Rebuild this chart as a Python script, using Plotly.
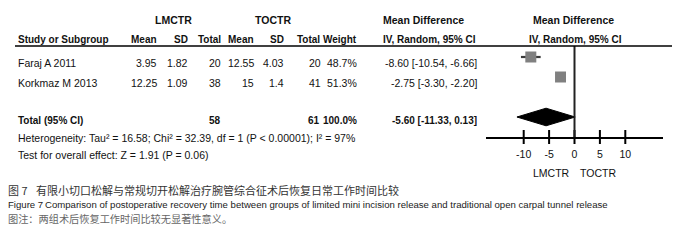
import plotly.graph_objects as go

# ---------------- data ----------------
studies = ["Faraj A 2011", "Korkmaz M 2013"]
lm_mean = [3.95, 12.25]
lm_sd = [1.82, 1.09]
lm_n = [20, 38]
to_mean = [12.55, 15]
to_sd = [4.03, 1.4]
to_n = [20, 41]
weights = [48.7, 51.3]
md = [-8.60, -2.75]
md_lo = [-10.54, -3.30]
md_hi = [-6.66, -2.20]

total_lm_n = 58
total_to_n = 61
total_weight = 100.0
total_md = -5.60
total_lo = -11.33
total_hi = 0.13

heterogeneity = "Heterogeneity: Tau² = 16.58; Chi² = 32.39, df = 1 (P < 0.00001); I² = 97%"
overall = "Test for overall effect: Z = 1.91 (P = 0.06)"
group1 = "LMCTR"
group2 = "TOCTR"
tick_vals = [-10, -5, 0, 5, 10]

cap_cn_label = "图 7"
cap_cn = "有限小切口松解与常规切开松解治疗腕管综合征术后恢复日常工作时间比较"
cap_en_label = "Figure 7"
cap_en = "Comparison of postoperative recovery time between groups of limited mini incision release and traditional open carpal tunnel release"
cap_note = "图注：两组术后恢复工作时间比较无显著性意义。"

# ---------------- layout helpers ----------------
W, H = 683, 240
FONT = "Liberation Sans, Arial, sans-serif"
CJK = "Noto Sans CJK SC, sans-serif"
FS = 10.5     # table text size
FSH = 10      # column header size
FST = 10      # total row size

study_rows = [1, 2]
total_row = 4
axis_row = 5
top_row = -1.85  # row at top edge of figure


def px(x):
    return x / W


def py(y):
    return 1 - y / H


fig = go.Figure()

# CI lines
fig.add_trace(go.Scatter(
    x=md, y=study_rows, mode="markers",
    marker=dict(size=1, color="rgba(0,0,0,0)"),
    error_x=dict(type="data", symmetric=False,
                 array=[h - m for h, m in zip(md_hi, md)],
                 arrayminus=[m - l for m, l in zip(md, md_lo)],
                 color="#3a3a3a", thickness=2.2, width=0),
    showlegend=False, hoverinfo="skip", cliponaxis=False))

# squares
fig.add_trace(go.Scatter(
    x=md, y=study_rows, mode="markers",
    marker=dict(symbol="square", size=11, color="#808080", line=dict(width=0)),
    showlegend=False, cliponaxis=False))

# diamond
dh = 0.44
fig.add_trace(go.Scatter(
    x=[total_lo, total_md, total_hi, total_md, total_lo],
    y=[total_row, total_row - dh, total_row, total_row + dh, total_row],
    mode="lines", fill="toself", fillcolor="black",
    line=dict(color="black", width=1), showlegend=False, cliponaxis=False))

# ticks crossing axis line
fig.add_trace(go.Scatter(
    x=tick_vals, y=[axis_row] * len(tick_vals), mode="markers",
    marker=dict(symbol="line-ns", size=10, line=dict(width=2, color="black")),
    showlegend=False, cliponaxis=False, hoverinfo="skip"))

# zero line
fig.add_shape(type="line", xref="x", yref="y", x0=0, x1=0, y0=0.45, y1=axis_row,
              line=dict(color="#222", width=2))
# header line
fig.add_shape(type="line", xref="paper", yref="paper", x0=px(15), x1=px(672),
              y0=py(46), y1=py(46), line=dict(color="black", width=1.6))


def txt(s, x, y, anchor="left", size=FS, bold=False, color="#111", family=FONT):
    if bold:
        s = "<b>" + s + "</b>"
    fig.add_annotation(text=s, x=px(x), y=py(y), xref="paper", yref="paper",
                       xanchor=anchor, yanchor="middle", showarrow=False,
                       font=dict(size=size, color=color, family=family), borderpad=0)


# headers
txt(group1, 173, 20, "center", bold=True)
txt(group2, 273, 20, "center", bold=True)
txt("Mean Difference", 423, 20, "center", bold=True)
txt("Mean Difference", 573.5, 20, "center", bold=True)
txt("Study or Subgroup", 17, 40, "left", size=FSH, bold=True)
for lab, x in [("Mean", 158), ("SD", 188.5), ("Total", 222), ("Mean", 254.5),
               ("SD", 285), ("Total", 321.2), ("Weight", 358.3)]:
    txt(lab, x, 40, "right", size=FSH, bold=True)
txt("IV, Random, 95% CI", 381.5, 40, "left", size=FSH, bold=True)
txt("IV, Random, 95% CI", 575, 40, "center", size=FSH, bold=True)

# study rows
row_y = [62.5, 82.5]
for i, s in enumerate(studies):
    y = row_y[i]
    txt(s, 17, y, "left")
    txt(f"{lm_mean[i]:.2f}", 158, y, "right")
    txt(f"{lm_sd[i]:.2f}", 188.5, y, "right")
    txt(f"{lm_n[i]}", 222, y, "right")
    txt(f"{to_mean[i]:g}", 254.5, y, "right")
    txt(f"{to_sd[i]:g}", 285, y, "right")
    txt(f"{to_n[i]}", 321.7, y, "right")
    txt(f"{weights[i]:.1f}%", 358.3, y, "right")
    txt(f"{md[i]:.2f} [{md_lo[i]:.2f}, {md_hi[i]:.2f}]", 477.5, y, "right")

# total row
txt("Total (95% CI)", 17, 120, "left", size=FST, bold=True)
txt(f"{total_lm_n}", 222, 120, "right", size=FST, bold=True)
txt(f"{total_to_n}", 320.5, 120, "right", size=FST, bold=True)
txt(f"{total_weight:.1f}%", 358.3, 120, "right", size=FST, bold=True)
txt(f"{total_md:.2f} [{total_lo:.2f}, {total_hi:.2f}]", 477.5, 120, "right", size=FST, bold=True)
txt(heterogeneity, 17, 137.5, "left")
txt(overall, 17, 155, "left")

# axis group labels
txt(group1, 551.7, 173, "center")
txt(group2, 598.3, 173, "center")

# captions
txt(cap_cn_label, 7, 190, "left", size=11, color="#333", family=CJK)
txt(cap_cn, 35, 190, "left", size=11, color="#333", family=CJK)
txt(cap_en_label, 7, 204, "left", size=9.6, color="#222")
txt(cap_en, 44, 204, "left", size=9.6, color="#222")
txt(cap_note, 7, 218, "left", size=10.2, color="#666", family=CJK)

fig.update_layout(
    width=W, height=H, margin=dict(l=0, r=0, t=0, b=0),
    paper_bgcolor="white", plot_bgcolor="white",
    xaxis=dict(domain=[px(486), px(663)], range=[-17.42, 17.42],
               showline=True, linewidth=2, linecolor="black",
               ticks="", tickvals=tick_vals, ticktext=[str(v) for v in tick_vals],
               tickfont=dict(size=FS, family=FONT, color="#111"),
               showgrid=False, zeroline=False, fixedrange=True,
               ticklabelstandoff=6),
    yaxis=dict(domain=[1 - 137 / H, 1], range=[axis_row, top_row], visible=False,
               fixedrange=True),
)

fig.write_html("out.html", config={"displayModeBar": False},
               post_script="document.body.style.margin='0';document.body.style.padding='0';")
